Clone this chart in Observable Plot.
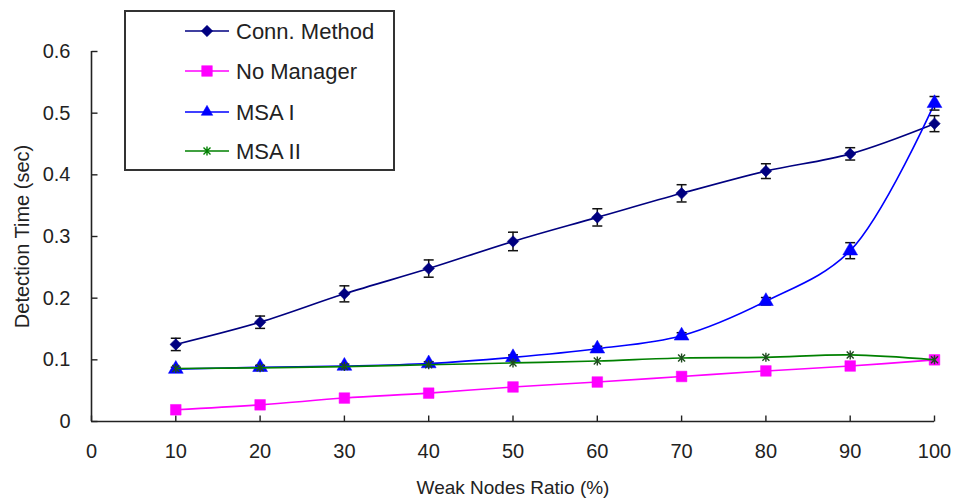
<!DOCTYPE html>
<html>
<head>
<meta charset="utf-8">
<script src="https://cdn.jsdelivr.net/npm/d3@7"></script>
<script src="https://cdn.jsdelivr.net/npm/@observablehq/plot@0.6"></script>
<style>
  html, body { margin: 0; padding: 0; background: #fff; }
  #chart { position: relative; width: 955px; height: 499px; font-family: "Liberation Sans", Arial, sans-serif; }
  #legend { position: absolute; left: 124px; top: 10px; }
</style>
</head>
<body>
<div id="chart"></div>
<script>
// Weak node ratio (%) on the x axis
const ratios = [10, 20, 30, 40, 50, 60, 70, 80, 90, 100];

// Detection time (sec) per method
const connMethod = [0.125, 0.161, 0.207, 0.248, 0.292, 0.331, 0.370, 0.406, 0.434, 0.483];
const connErr    = [0.010, 0.010, 0.013, 0.014, 0.015, 0.014, 0.014, 0.012, 0.010, 0.013];
const noManager  = [0.019, 0.027, 0.038, 0.046, 0.056, 0.064, 0.073, 0.082, 0.090, 0.100];
const msa1       = [0.085, 0.088, 0.090, 0.094, 0.104, 0.118, 0.139, 0.195, 0.277, 0.516];
const msa1Err    = [0.003, 0.003, 0.003, 0.003, 0.004, 0.004, 0.005, 0.006, 0.013, 0.011];
const msa2       = [0.086, 0.087, 0.089, 0.092, 0.095, 0.098, 0.103, 0.104, 0.108, 0.100];

const seriesNames = ["Conn. Method", "No Manager", "MSA I", "MSA II"];
const xTicks = [0, 10, 20, 30, 40, 50, 60, 70, 80, 90, 100];
const yTicks = [0, 0.1, 0.2, 0.3, 0.4, 0.5, 0.6];

// Custom marker shapes
const starSymbol = {
  draw(ctx) {
    const s = 3.5;
    ctx.moveTo(-s, -s); ctx.lineTo(s, s);
    ctx.moveTo(-s, s); ctx.lineTo(s, -s);
    ctx.moveTo(0, -s - 1); ctx.lineTo(0, s + 1);
  }
};
const capSymbol = { draw(ctx) { ctx.moveTo(-5, 0); ctx.lineTo(5, 0); } };
const yTickSymbol = { draw(ctx) { ctx.moveTo(0, 0); ctx.lineTo(6, 0); } };
const xTickSymbol = { draw(ctx) { ctx.moveTo(0, 0); ctx.lineTo(0, -6); } };

const styles = {
  "Conn. Method": { stroke: "#000080", fill: "#000080", symbol: "diamond2", r: 5.2 },
  "No Manager":   { stroke: "#ff00ff", fill: "#ff00ff", symbol: "square",   r: 6.0 },
  "MSA I":        { stroke: "#0000ff", fill: "#0000ff", symbol: "triangle", r: 5.5 },
  "MSA II":       { stroke: "#008000", fill: "none",    symbol: starSymbol, r: 4, markerStroke: "#1f4a1f" }
};

const values = { "Conn. Method": connMethod, "No Manager": noManager, "MSA I": msa1, "MSA II": msa2 };
const errors = { "Conn. Method": connErr, "MSA I": msa1Err };

const rows = seriesNames.map(name => ratios.map((x, i) => ({
  series: name, x, y: values[name][i], e: errors[name] ? errors[name][i] : 0
})));

const seriesMarks = rows.flatMap((data, k) => {
  const st = styles[seriesNames[k]];
  const marks = [
    Plot.line(data, { x: "x", y: "y", stroke: st.stroke, strokeWidth: 1.6, curve: "catmull-rom" })
  ];
  if (data[0].e > 0) {
    marks.push(
      Plot.ruleX(data, { x: "x", y1: d => d.y - d.e, y2: d => d.y + d.e, stroke: "#111", strokeWidth: 1.5 }),
      Plot.dot(data, { x: "x", y: d => d.y - d.e, symbol: capSymbol, stroke: "#111", strokeWidth: 1.5 }),
      Plot.dot(data, { x: "x", y: d => d.y + d.e, symbol: capSymbol, stroke: "#111", strokeWidth: 1.5 })
    );
  }
  marks.push(
    Plot.dot(data, {
      x: "x", y: "y", symbol: st.symbol, r: st.r,
      fill: st.fill, stroke: st.markerStroke || st.stroke, strokeWidth: st.fill === "none" ? 1.4 : 0.5
    })
  );
  return marks;
});

const plot = Plot.plot({
  width: 955,
  height: 499,
  marginLeft: 91,
  marginRight: 21,
  marginTop: 51,
  marginBottom: 78,
  style: { fontFamily: "Liberation Sans, Arial, sans-serif", color: "#222", background: "#fff" },
  x: { domain: [0, 100] },
  y: { domain: [0, 0.6] },
  marks: [
    Plot.axisX({ ticks: xTicks, tickSize: 0, tickPadding: 22, fontSize: 20, label: null }),
    Plot.axisY({ ticks: yTicks, tickSize: 0, tickPadding: 21, fontSize: 20, label: null,
                 tickFormat: d => d === 0 ? "0" : d3.format(".1f")(d) }),
    Plot.ruleX([0], { y1: 0, y2: 0.6, stroke: "#222", strokeWidth: 1.6 }),
    Plot.ruleY([0], { x1: 0, x2: 100, stroke: "#222", strokeWidth: 1.6 }),
    Plot.dot(yTicks, { x: 0, y: d => d, symbol: yTickSymbol, stroke: "#222", strokeWidth: 1.4 }),
    Plot.dot(xTicks, { x: d => d, y: 0, symbol: xTickSymbol, stroke: "#222", strokeWidth: 1.4 }),
    Plot.text(["Weak Nodes Ratio (%)"], { frameAnchor: "bottom", lineAnchor: "middle", dy: 66, fontSize: 19, fill: "#222" }),
    Plot.text(["Detection Time (sec)"], { frameAnchor: "left", textAnchor: "middle", lineAnchor: "middle", dx: -69, rotate: -90, fontSize: 20, fill: "#222" }),
    ...seriesMarks
  ]
});

const chart = document.getElementById("chart");
chart.appendChild(plot);

// Legend box drawn over the plot area
const legend = d3.select(chart).append("svg")
  .attr("id", "legend")
  .attr("width", 271).attr("height", 161);
legend.append("rect")
  .attr("x", 1).attr("y", 1).attr("width", 269).attr("height", 159)
  .attr("fill", "#fff").attr("stroke", "#333").attr("stroke-width", 2);

const rowY = [21, 61, 102, 141];
seriesNames.forEach((name, i) => {
  const st = styles[name];
  const g = legend.append("g").attr("transform", `translate(0,${rowY[i]})`);
  g.append("line").attr("x1", 61).attr("x2", 105).attr("y1", 0).attr("y2", 0)
    .attr("stroke", st.stroke).attr("stroke-width", 1.6);
  const sym = typeof st.symbol === "string"
    ? { diamond2: d3.symbolDiamond2, square: d3.symbolSquare, triangle: d3.symbolTriangle2 }[st.symbol]
    : st.symbol;
  g.append("path").attr("transform", "translate(83,0)")
    .attr("d", d3.symbol(sym, Math.PI * st.r * st.r)())
    .attr("fill", st.fill).attr("stroke", st.stroke)
    .attr("stroke-width", st.fill === "none" ? 1.4 : 0.5);
  g.append("text").attr("x", 112).attr("y", 0).attr("dy", "0.35em")
    .attr("font-size", 22).attr("fill", "#222")
    .attr("font-family", "Liberation Sans, Arial, sans-serif")
    .text(name);
});
</script>
</body>
</html>
